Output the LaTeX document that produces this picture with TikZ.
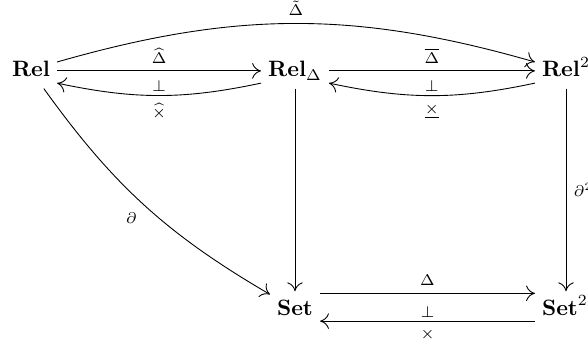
\documentclass[tikz,border=0pt]{standalone}
\usepackage{amsmath,amssymb}
\usetikzlibrary{arrows.meta}

\begin{document}
\begin{tikzpicture}[x=0.45pt,y=0.45pt,
  obj/.style={anchor=base,inner sep=3pt,text height=7.5pt,text depth=2pt},
  mor/.style={-{Computer Modern Rightarrow[length=4pt,width=7pt]},line width=0.4pt},
  lbl/.style={font=\scriptsize,auto},
  adj/.style={lbl,swap,inner sep=1.5pt}]
\useasboundingbox (0,0) rectangle (588,-350);
\node[obj] (rel) at (31,-77) {$\mathbf{Rel}$};
\node[obj] (reld) at (295,-77) {$\mathbf{Rel}_\Delta$};
\node[obj] (relsq) at (566,-77) {$\mathbf{Rel}^2$};
\node[obj] (set) at (295,-315) {$\mathbf{Set}$};
\node[obj] (setsq) at (565,-315) {$\mathbf{Set}^2$};
\draw[mor] (rel.east) -- node[lbl] {$\widehat{\Delta}$} (rel.east -| reld.west);
\draw[mor] ([yshift=-5.5pt]reld.west) to[bend left=12] node[lbl] {$\widehat{\times}$} node[adj] {$\bot$} ([yshift=-5.5pt]rel.east);
\draw[mor] (reld.east) -- node[lbl] {$\overline{\Delta}$} (reld.east -| relsq.west);
\draw[mor] ([yshift=-5.5pt]relsq.west) to[bend left=12] node[lbl] {$\underline{\times}$} node[adj] {$\bot$} ([yshift=-5.5pt]reld.east);
\draw[mor] ([yshift=4pt]rel.east) to[bend left=16] node[lbl] {$\tilde{\Delta}$} ([yshift=4pt]relsq.west);
\draw[mor] (rel) to[bend right=12] node[lbl,swap] {$\partial$} (set);
\draw[mor] (reld) -- (set);
\draw[mor] (relsq) -- node[lbl] {$\partial^2$} (relsq |- setsq.north);
\draw[mor] ([yshift=7pt]set.east) -- node[lbl] {$\Delta$} ([yshift=7pt]set.east -| setsq.west);
\draw[mor] ([yshift=-5.5pt]set.east -| setsq.west) -- node[lbl] {$\times$} node[adj] {$\bot$} ([yshift=-5.5pt]set.east);
\end{tikzpicture}
\end{document}
